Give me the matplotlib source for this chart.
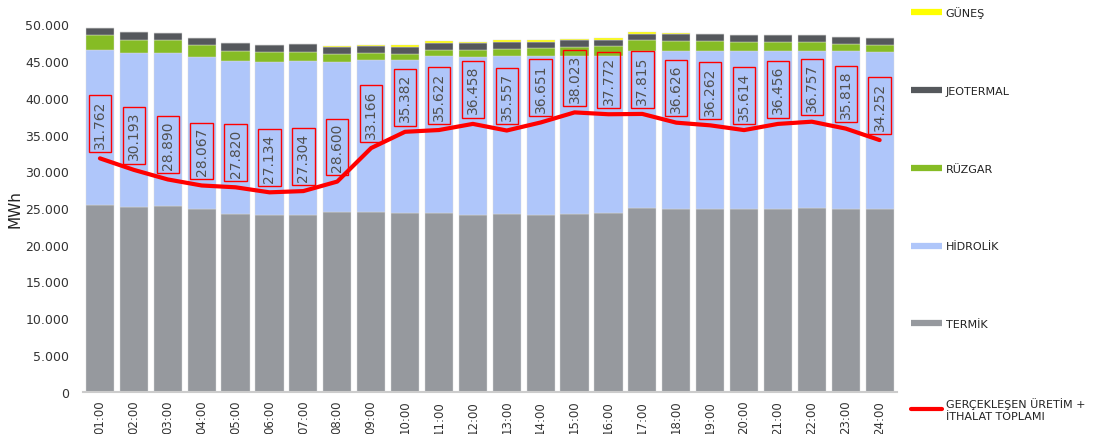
import numpy as np
import matplotlib.pyplot as plt
from matplotlib.lines import Line2D
from matplotlib.ticker import FuncFormatter

saatler = ["%02d:00" % h for h in range(1, 25)]

termik = [25450, 25180, 25310, 24860, 24180, 24050, 24090, 24460, 24410, 24360, 24270, 24090,
          24140, 24090, 24230, 24270, 24950, 24860, 24860, 24860, 24860, 25000, 24860, 24860]
hidrolik = [21030, 20980, 20850, 20760, 20890, 20880, 20980, 20470, 20750, 20760, 21390, 21530,
            21520, 21570, 21430, 21430, 21480, 21530, 21530, 21530, 21530, 21390, 21480, 21390]
ruzgar = [2090, 1770, 1690, 1550, 1360, 1280, 1230, 1050, 910, 820, 870, 950,
          1000, 1090, 1320, 1420, 1420, 1410, 1410, 1270, 1180, 1180, 1000, 960]
jeotermal = [990, 1050, 990, 1030, 1090, 1040, 1000, 1000, 1000, 1040, 950, 860,
             910, 910, 860, 810, 900, 950, 950, 950, 1000, 1000, 960, 990]
gunes = [0, 0, 0, 0, 0, 0, 0, 80, 150, 200, 240, 250,
         250, 250, 250, 240, 180, 80, 0, 0, 0, 0, 0, 0]
toplam = [31762, 30193, 28890, 28067, 27820, 27134, 27304, 28600, 33166, 35382, 35622, 36458,
          35557, 36651, 38023, 37772, 37815, 36626, 36262, 35614, 36456, 36757, 35818, 34252]

renkler = {"TERMİK": "#96999e", "HİDROLİK": "#afc6fa", "RÜZGAR": "#86bc25",
           "JEOTERMAL": "#55585c", "GÜNEŞ": "#ffff00"}

fig = plt.figure(figsize=(10.95, 4.35), dpi=100)
ax = fig.add_axes([0.0758, 0.0977, 0.743, 0.8437])

x = np.arange(len(saatler))
alt = np.zeros(len(saatler))
for ad, seri in [("TERMİK", termik), ("HİDROLİK", hidrolik), ("RÜZGAR", ruzgar),
                 ("JEOTERMAL", jeotermal), ("GÜNEŞ", gunes)]:
    seri = np.array(seri, dtype=float)
    ax.bar(x, seri, bottom=alt, width=0.83, color=renkler[ad], edgecolor="#dddddd", linewidth=0.3)
    alt += seri

ax.plot(x, toplam, color="#ff0000", lw=3, solid_capstyle="round", zorder=5)

for i, v in enumerate(toplam):
    etiket = "{:,}".format(v).replace(",", ".")
    ax.annotate(etiket, (x[i], v), xytext=(0, 7.5), textcoords="offset points",
                rotation=90, ha="center", va="bottom", fontsize=10, color="#505050",
                bbox=dict(boxstyle="square,pad=0.3", fc="none", ec="#ff0000", lw=1), zorder=6)

ax.set_xlim(-0.5, 23.5)
ax.set_ylim(0, 50000)
ax.set_yticks(np.arange(0, 50001, 5000))
ax.yaxis.set_major_formatter(FuncFormatter(lambda v, p: "{:,}".format(int(v)).replace(",", ".")))
ax.set_xticks(x)
ax.set_xticklabels(saatler, rotation=90, fontsize=8.5, color="#333333")
ax.tick_params(axis="y", labelsize=9, colors="#333333", length=0, pad=10)
ax.tick_params(axis="x", length=0, pad=6)
for s in ["top", "right", "left"]:
    ax.spines[s].set_visible(False)
ax.spines["bottom"].set_color("#cccccc")
ax.spines["bottom"].set_linewidth(1.5)
ax.set_ylabel("MWh", fontsize=11, color="#222222", labelpad=2)

tutamaclar = [Line2D([], [], color=renkler["GÜNEŞ"], lw=4.5, solid_capstyle="butt"),
              Line2D([], [], color=renkler["JEOTERMAL"], lw=4.5, solid_capstyle="butt"),
              Line2D([], [], color=renkler["RÜZGAR"], lw=4.5, solid_capstyle="butt"),
              Line2D([], [], color=renkler["HİDROLİK"], lw=4.5, solid_capstyle="butt"),
              Line2D([], [], color=renkler["TERMİK"], lw=4.5, solid_capstyle="butt"),
              Line2D([], [], color="#ff0000", lw=3, solid_capstyle="round")]
etiketler = ["GÜNEŞ", "JEOTERMAL", "RÜZGAR", "HİDROLİK", "TERMİK",
             "GERÇEKLEŞEN ÜRETİM +\nİTHALAT TOPLAMI"]
fig.legend(tutamaclar, etiketler, loc="upper left", bbox_to_anchor=(0.825, 1.0),
           frameon=False, fontsize=8, labelspacing=6.1, handlelength=2.85,
           handletextpad=0.3, borderpad=0.15, labelcolor="#222222")

fig.savefig("out.png", dpi=100)
